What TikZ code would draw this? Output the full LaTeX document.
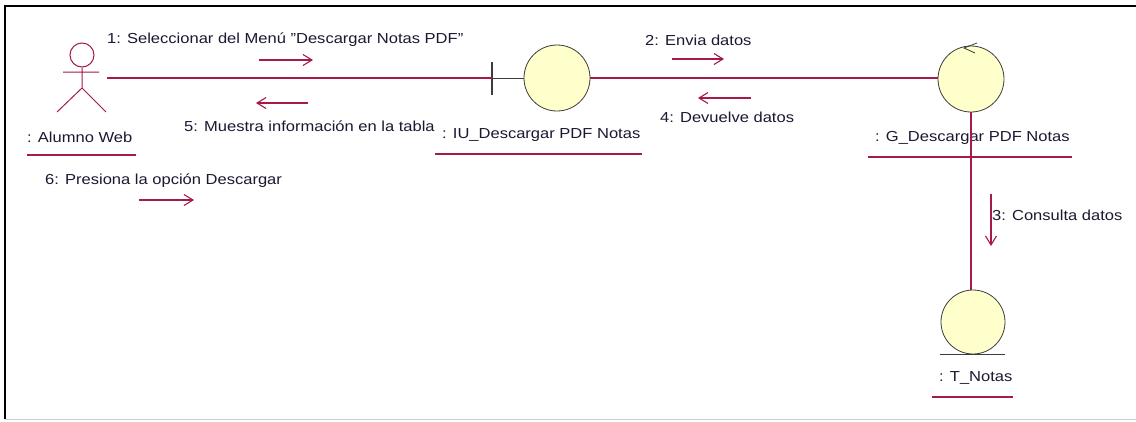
\documentclass[tikz,border=0pt]{standalone}
\usepackage{fontspec}
\setmainfont[FakeStretch=1.14]{Liberation Sans}
\usetikzlibrary{arrows.meta}
\definecolor{link}{RGB}{165,25,75}
\definecolor{txt}{RGB}{25,25,50}
\definecolor{fillc}{RGB}{255,255,204}
\definecolor{edge}{RGB}{60,60,60}
\begin{document}
\begin{tikzpicture}[x=1pt,y=-1pt,
  lbl/.style={anchor=west,inner sep=0pt,text=txt,font=\fontsize{14.5}{16}\selectfont},
  obj/.style={circle,draw=edge,fill=fillc,minimum size=66pt,inner sep=0pt,line width=0.8pt},
  lnk/.style={draw=link,line width=1.3pt},
  msg/.style={draw=link,line width=1.1pt,-{Straight Barb[length=9pt,width=11pt,line width=1.1pt]}},
  uline/.style={draw=link,line width=1.2pt}]
\useasboundingbox (0,0) rectangle (1136,421);
\fill[white] (0,0) rectangle (1136,421);
% frame
\draw[black,line width=2.5pt] (5,419) -- (5,6) -- (1136,6);
\draw[gray!40,line width=1pt] (5,419) -- (1136,419);
% actor
\node[circle,draw=link,line width=1pt,minimum size=24pt,inner sep=0pt] (head) at (82,55) {};
\coordinate (hip) at (82,88);
\coordinate (armL) at (63,72);
\coordinate (armR) at (99,72);
\coordinate (legL) at (57,112);
\coordinate (legR) at (106,112);
\draw[link,line width=1pt] (head.south) -- (hip) -- (legL) (hip) -- (legR) (armL) -- (armR);
\node[lbl] (alumno) at (27,137) {: Alumno Web};
\draw[uline] (27,155) -- (136,155);
% boundary
\node[obj] (iu) at (557,78) {};
\coordinate (bar) at (492,78);
\draw[edge,line width=1pt] (iu.west) -- (bar);
\draw[edge,line width=1.3pt] (492,62) -- (492,95);
\node[lbl] (iulbl) at (442,135) {: IU\_Descargar PDF Notas};
\draw[uline] (435,154) -- (642,154);
% control
\node[obj] (g) at (971,79) {};
\draw[edge,line width=0.8pt] (977,43) -- (964,48) -- (975,53);
\node[lbl] (glbl) at (875,138) {: G\_Descargar PDF Notas};
% entity
\node[obj,minimum size=64pt] (t) at (973,322) {};
\draw[edge,line width=1pt] (940,354) -- (1005,354);
\node[lbl] (tlbl) at (939,378) {: T\_Notas};
\draw[uline] (932,397) -- (1013,397);
% links
\coordinate (actorR) at (107,78);
\draw[lnk] (actorR) -- (bar);
\draw[lnk] (iu.east) -- (g.west |- iu.east);
\draw[lnk] (g.south) -- (g.south |- t.north);
\draw[uline] (868,157) -- (1072,157);
% messages
\node[lbl] (m1) at (107,40) {1: Seleccionar del Menú \symbol{34}Descargar Notas PDF\symbol{34}};
\coordinate (m1a) at (259,60); \coordinate (m1b) at (313,60);
\draw[msg] (m1a) -- (m1b);
\node[lbl] (m5) at (184,126) {5: Muestra información en la tabla};
\coordinate (m5a) at (308,103); \coordinate (m5b) at (256,103);
\draw[msg] (m5a) -- (m5b);
\node[lbl] (m2) at (645,40) {2: Envia datos};
\coordinate (m2a) at (672,59); \coordinate (m2b) at (724,59);
\draw[msg] (m2a) -- (m2b);
\node[lbl] (m4) at (660,117) {4: Devuelve datos};
\coordinate (m4a) at (751,98); \coordinate (m4b) at (698,98);
\draw[msg] (m4a) -- (m4b);
\node[lbl] (m6) at (45,181) {6: Presiona la opción Descargar};
\coordinate (m6a) at (139,200); \coordinate (m6b) at (194,200);
\draw[msg] (m6a) -- (m6b);
\node[lbl] (m3) at (992,215) {3: Consulta datos};
\coordinate (m3a) at (991,194); \coordinate (m3b) at (991,246);
\draw[msg] (m3a) -- (m3b);
\end{tikzpicture}
\end{document}
